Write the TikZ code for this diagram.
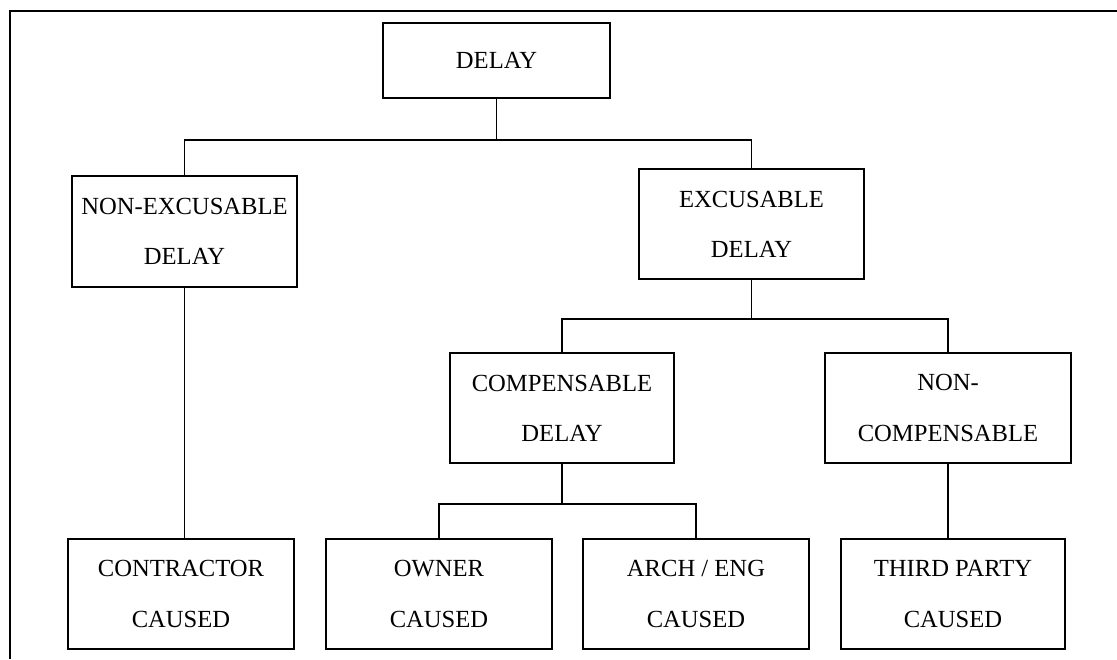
\documentclass[tikz,border=0pt]{standalone}
\usepackage{fontspec}
\setmainfont{Liberation Serif}
\usepackage{tikz}

\begin{document}
\begin{tikzpicture}[
    box/.style={draw, line width=0.9pt, minimum width=4.52cm, minimum height=2.2cm,
        align=center, inner sep=0pt, font=\fontsize{14pt}{28.5pt}\selectfont},
    link/.style={line width=0.9pt}
]
    \useasboundingbox (0, 0) rectangle (22.34, 13.18);
    \draw[line width=1pt] (0.2, 0) -- (0.2, 12.96) -- (22.4, 12.96);

    % top level
    \node[box, minimum width=4.54cm, minimum height=1.5cm] (delay) at (9.93, 11.97) {DELAY};

    % second level
    \node[box, minimum width=4.5cm, minimum height=2.22cm] (nonexc) at (3.69, 8.55) {NON-EXCUSABLE\\DELAY};
    \node[box, minimum width=4.5cm] (exc) at (15.03, 8.70) {EXCUSABLE\\DELAY};

    % third level
    \node[box, minimum width=4.48cm] (comp) at (11.24, 5.02) {COMPENSABLE\\DELAY};
    \node[box, minimum width=4.92cm] (noncomp) at (18.96, 5.02) {NON-\\COMPENSABLE};

    % bottom row
    \node[box] (contr) at (3.62, 1.30) {CONTRACTOR\\CAUSED};
    \node[box] (owner) at (8.78, 1.30) {OWNER\\CAUSED};
    \node[box] (arch) at (13.92, 1.30) {ARCH / ENG\\CAUSED};
    \node[box, minimum width=4.48cm] (third) at (19.06, 1.30) {THIRD PARTY\\CAUSED};

    % connectors
    \draw[link] (delay.south) -- ++(0, -0.82) coordinate (bar1);
    \draw[link] (nonexc.north) |- (bar1) -| (exc.north);
    \draw[link] (exc.south) -- ++(0, -0.78) coordinate (bar2);
    \draw[link] (comp.north) |- (bar2) -| (noncomp.north);
    \draw[link] (comp.south) -- ++(0, -0.80) coordinate (bar3);
    \draw[link] (owner.north) |- (bar3) -| (arch.north);
    \draw[link] (nonexc.south) -- (nonexc.south |- contr.north);
    \draw[link] (noncomp.south) -- (noncomp.south |- third.north);
\end{tikzpicture}
\end{document}
